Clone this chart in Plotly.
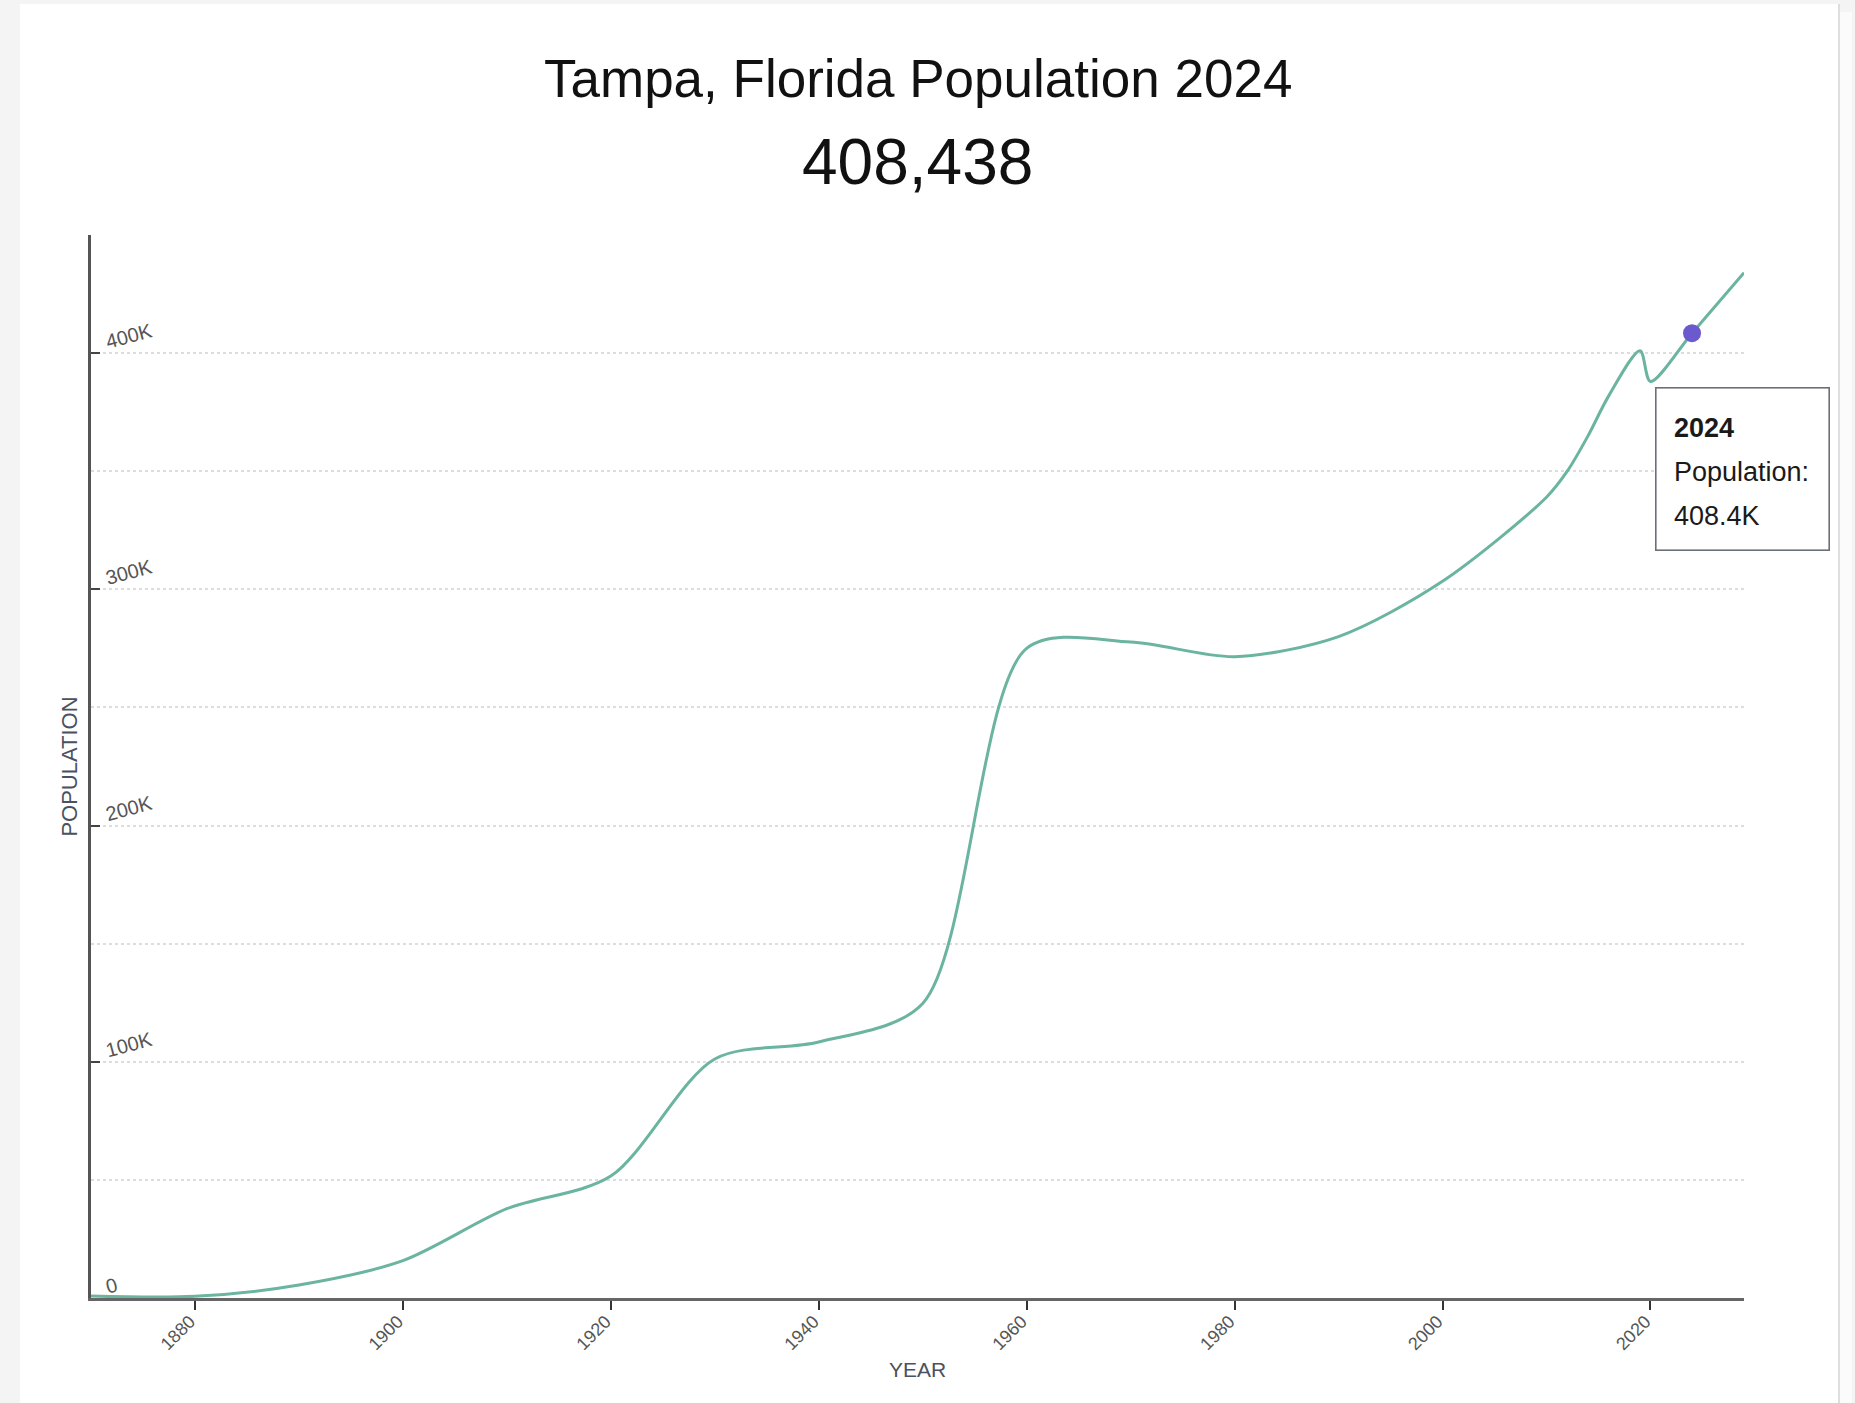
import plotly.graph_objects as go

# ---- data ----
years = [1870, 1880, 1890, 1900, 1910, 1920, 1930, 1940, 1950, 1960,
         1970, 1980, 1990, 2000, 2010, 2012, 2014, 2016, 2019, 2020, 2024, 2029]
population = [800, 700, 5500, 15800, 37800, 51600, 101200, 108400, 124700, 275000,
              277700, 271500, 280000, 303400, 339000, 350000, 365000, 382000, 401000,
              388000, 408438, 434000]
highlight_year = 2024
highlight_pop = 408438
y_tick_values = [0, 100000, 200000, 300000, 400000]
x_tick_values = [1880, 1900, 1920, 1940, 1960, 1980, 2000, 2020]
title_text = "Tampa, Florida Population 2024"

W, H = 1855, 1403
ML, MR, MT, MB = 91, 111, 235, 105
PW, PH = W - ML - MR, H - MT - MB

def px_to_paper_x(px):
    return (px - ML) / PW

def px_to_paper_y(py):
    return (H - MB - py) / PH

FONT = "Liberation Sans, Arial, Helvetica, sans-serif"

def ylab(v):
    return "0" if v == 0 else f"{v // 1000}K"

fig = go.Figure()

fig.add_trace(go.Scatter(
    x=years, y=population, mode="lines",
    line=dict(color="#6ab4a0", width=3, shape="spline", smoothing=0.85),
    hoverinfo="skip", showlegend=False,
))

fig.add_trace(go.Scatter(
    x=[highlight_year], y=[highlight_pop], mode="markers",
    marker=dict(color="#6a5acd", size=18, line=dict(width=0)),
    hoverinfo="skip", showlegend=False,
))

# vertical hover line
fig.add_shape(type="line", xref="x", yref="paper",
              x0=highlight_year, x1=highlight_year, y0=0, y1=1,
              line=dict(color="#d4d4d4", width=2), layer="below")

# white card background
fig.add_shape(type="rect", xref="paper", yref="paper",
              x0=px_to_paper_x(20), x1=px_to_paper_x(1838),
              y0=px_to_paper_y(H + 5), y1=px_to_paper_y(4),
              fillcolor="white", line=dict(width=0), layer="below")
fig.add_shape(type="line", xref="paper", yref="paper",
              x0=px_to_paper_x(1839), x1=px_to_paper_x(1839),
              y0=px_to_paper_y(H + 5), y1=px_to_paper_y(4),
              line=dict(color="#dedede", width=2), layer="below")
fig.add_shape(type="rect", xref="paper", yref="paper",
              x0=px_to_paper_x(1840), x1=px_to_paper_x(1852),
              y0=px_to_paper_y(H + 5), y1=px_to_paper_y(12),
              fillcolor="#fbfbfb", line=dict(width=0), layer="below")

# tooltip box (annotation so it is not clipped by the plot area)
fig.add_annotation(x=highlight_year, y=highlight_pop, xref="x", yref="y",
                   text=" ", showarrow=False, xanchor="left", yanchor="top",
                   xshift=-37, yshift=-54, width=172, height=161,
                   bgcolor="white", bordercolor="#6b6f78", borderwidth=1.6,
                   borderpad=0)

def fmt_k(v):
    return f"{v / 1000:.1f}K"

tip_lines = [f"<b>{highlight_year}</b>", "Population:", fmt_k(highlight_pop)]
for i, t in enumerate(tip_lines):
    fig.add_annotation(x=highlight_year, y=highlight_pop, xref="x", yref="y",
                       text=t, showarrow=False, xanchor="left", yanchor="middle",
                       xshift=-20, yshift=-95 - 44 * i,
                       font=dict(family=FONT, size=27, color="#1a1a1a"))

# titles
fig.add_annotation(xref="paper", yref="paper", x=0.5, y=px_to_paper_y(79),
                   text=title_text, showarrow=False, yanchor="middle",
                   font=dict(family=FONT, size=53, color="#111111"))
fig.add_annotation(xref="paper", yref="paper", x=0.5, y=px_to_paper_y(162),
                   text=f"{highlight_pop:,}", showarrow=False, yanchor="middle",
                   font=dict(family=FONT, size=64, color="#111111"))

fig.update_layout(
    width=W, height=H,
    margin=dict(l=ML, r=MR, t=MT, b=MB, autoexpand=False),
    paper_bgcolor="#f4f4f4", plot_bgcolor="rgba(0,0,0,0)",
    hovermode=False, showlegend=False,
    font=dict(family=FONT),
)

fig.update_xaxes(
    range=[1870, 2029], tickmode="array", tickvals=x_tick_values,
    ticktext=[str(v) for v in x_tick_values], tickangle=-45,
    tickfont=dict(size=18, color="#555555"),
    ticks="outside", ticklen=9, tickwidth=2, tickcolor="#333333",
    ticklabelstandoff=-6, ticklabelshift=-5,
    showline=True, linecolor="#666666", linewidth=3,
    showgrid=False, zeroline=False,
    title=dict(text="YEAR", standoff=10, font=dict(size=21, color="#4a5160")),
    automargin=False,
)

fig.update_yaxes(
    range=[0, 450000], tickmode="array", tickvals=y_tick_values,
    ticktext=[ylab(v) for v in y_tick_values],
    ticklabelposition="inside", tickangle=-15, ticklabelshift=-11,
    ticklabelstandoff=3,
    tickfont=dict(size=20, color="#555555"),
    ticks="inside", ticklen=9, tickwidth=2, tickcolor="#444444",
    showline=True, linecolor="#555555", linewidth=2.5,
    showgrid=True, gridcolor="#dddddd", griddash="dot", gridwidth=1.5,
    minor=dict(dtick=50000, tick0=0, showgrid=True, gridcolor="#dddddd",
               griddash="dot", gridwidth=1.5, ticks=""),
    zeroline=False,
    title=dict(text="POPULATION", standoff=20, font=dict(size=22, color="#4a5160")),
    automargin=False,
)

fig.write_html("out.html", config={"displayModeBar": False},
               post_script="document.body.style.margin='0';document.body.style.overflow='hidden';")
